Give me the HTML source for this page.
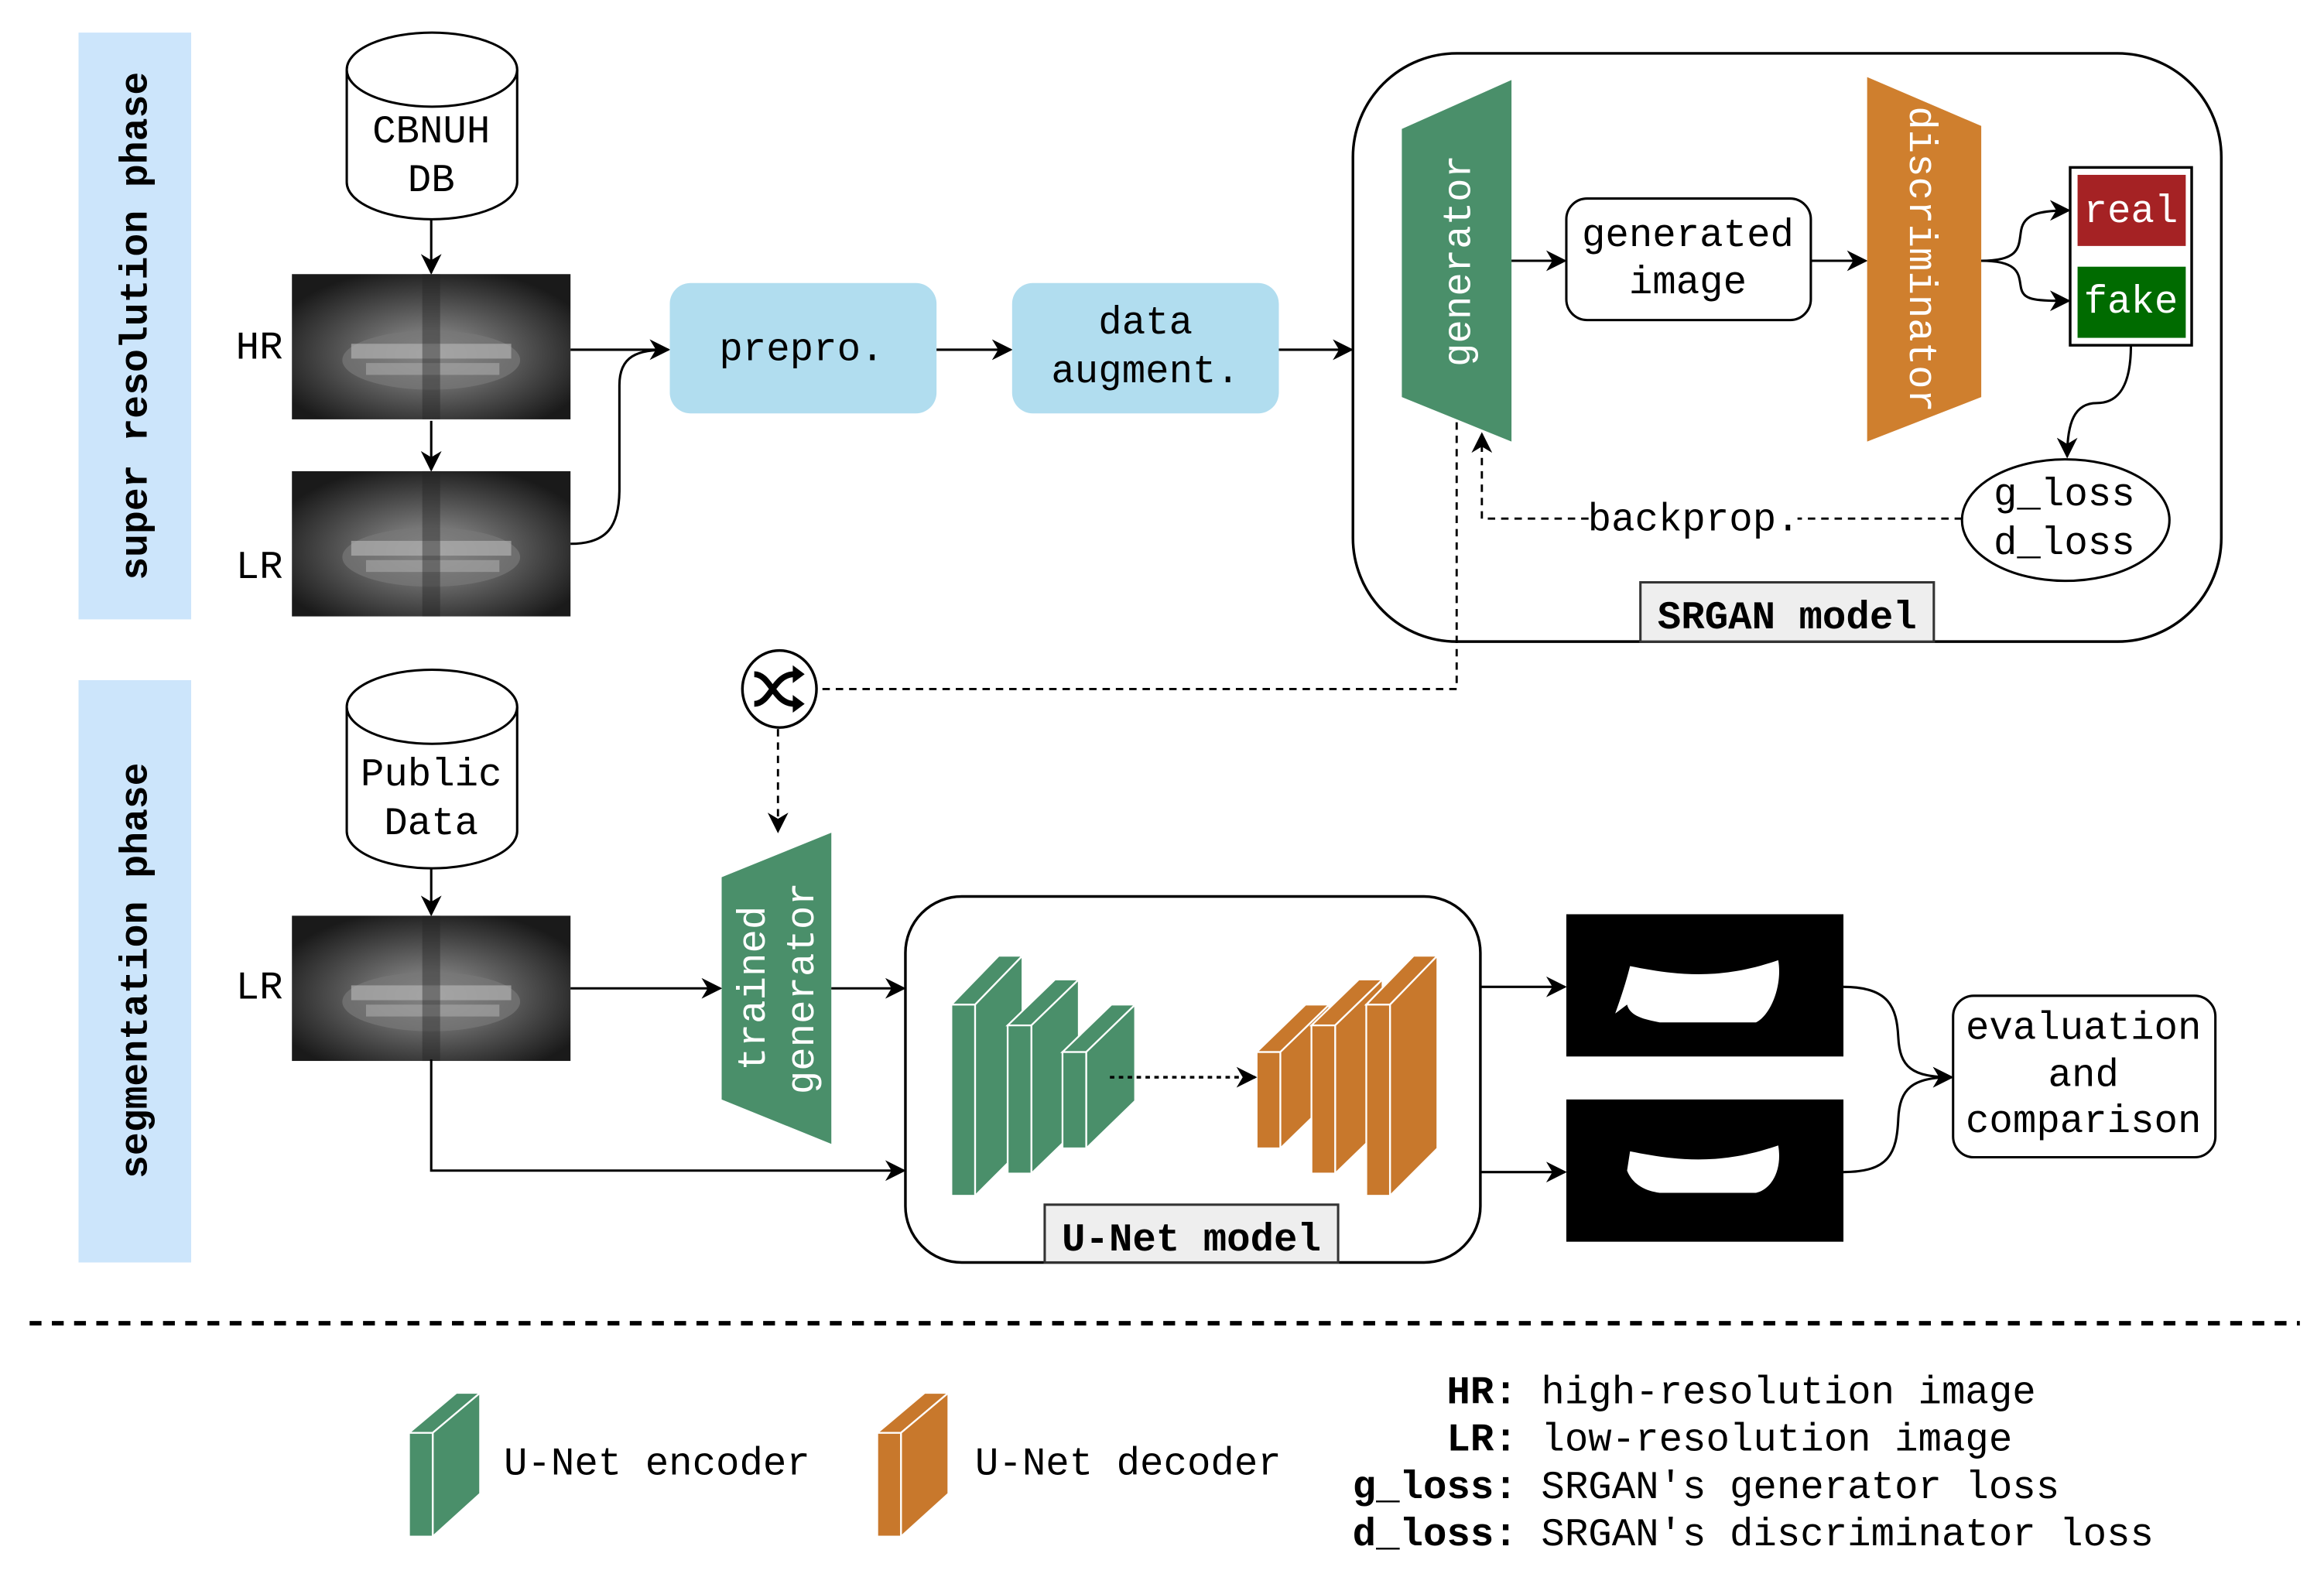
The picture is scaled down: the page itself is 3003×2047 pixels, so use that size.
<!DOCTYPE html>
<html><head><meta charset="utf-8"><style>
html,body{margin:0;padding:0;background:#fff;}
svg{display:block;}
text{font-family:"Liberation Mono",monospace;font-size:26.5px;}
</style></head><body>
<svg width="3003" height="2047" viewBox="0 0 1568.3 1069" preserveAspectRatio="none" xmlns="http://www.w3.org/2000/svg">
<defs>
<marker id="b" viewBox="0 0 10 10" refX="9" refY="5" markerWidth="14" markerHeight="14" orient="auto" markerUnits="userSpaceOnUse"><path d="M0,0 L10,5 L0,10 L3,5 z" fill="#000"/></marker>
<radialGradient id="xr" cx="50%" cy="55%" r="60%"><stop offset="0" stop-color="#9a9a9a"/><stop offset="0.5" stop-color="#5a5a5a"/><stop offset="1" stop-color="#1a1a1a"/></radialGradient>
<g id="xray"><rect width="188" height="98" fill="url(#xr)"/><ellipse cx="94" cy="58" rx="60" ry="20" fill="#777" opacity="0.7"/><rect x="40" y="47" width="108" height="10" fill="#bbb" opacity="0.6"/><rect x="50" y="60" width="90" height="8" fill="#aaa" opacity="0.6"/><rect x="88" y="0" width="12" height="98" fill="#222" opacity="0.4"/></g>
</defs>

<rect x="53" y="22" width="76" height="396" fill="#cce5fb"/>
<text transform="translate(99,220) rotate(-90)" text-anchor="middle" font-weight="bold" style="font-size:26px">super resolution phase</text>
<rect x="53" y="459" width="76" height="393" fill="#cce5fb"/>
<text transform="translate(99,655) rotate(-90)" text-anchor="middle" font-weight="bold" style="font-size:26px">segmentation phase</text>

<g fill="#fff" stroke="#000" stroke-width="1.6">
<path d="M234,47 L234,123 A57.5,25 0 0 0 349,123 L349,47"/>
<ellipse cx="291.5" cy="47" rx="57.5" ry="25"/>
</g>
<text x="291" y="96" text-anchor="middle">CBNUH</text>
<text x="291" y="129" text-anchor="middle">DB</text>
<line x1="291" y1="148" x2="291" y2="184" stroke="#000" stroke-width="1.6" marker-end="url(#b)"/>
<use href="#xray" x="197" y="185"/>
<text x="175" y="242" text-anchor="middle">HR</text>
<line x1="291" y1="284" x2="291" y2="317" stroke="#000" stroke-width="1.6" marker-end="url(#b)"/>
<use href="#xray" x="197" y="318"/>
<text x="175" y="390" text-anchor="middle">LR</text>

<line x1="385" y1="236" x2="451" y2="236" stroke="#000" stroke-width="1.6" marker-end="url(#b)"/>
<path d="M385,367 C410,367 418,355 418,330 L418,260 C418,240 430,236 451,236" fill="none" stroke="#000" stroke-width="1.6"/>
<rect x="452" y="191" width="180" height="88" rx="14" fill="#b1ddef"/>
<text x="541" y="243" text-anchor="middle">prepro.</text>
<line x1="632" y1="236" x2="682" y2="236" stroke="#000" stroke-width="1.6" marker-end="url(#b)"/>
<rect x="683" y="191" width="180" height="88" rx="14" fill="#b1ddef"/>
<text x="773" y="225" text-anchor="middle">data</text>
<text x="773" y="258" text-anchor="middle">augment.</text>
<line x1="863" y1="236" x2="912" y2="236" stroke="#000" stroke-width="1.6" marker-end="url(#b)"/>

<rect x="913" y="36" width="586" height="397" rx="70" fill="none" stroke="#000" stroke-width="1.8"/>
<polygon points="946,87 1020,54 1020,298 946,268" fill="#4a8f6a"/>
<text transform="translate(992,176) rotate(-90)" text-anchor="middle" fill="#fff">generator</text>
<line x1="1020" y1="176" x2="1056" y2="176" stroke="#000" stroke-width="1.6" marker-end="url(#b)"/>
<rect x="1057" y="134" width="165" height="82" rx="14" fill="#fff" stroke="#000" stroke-width="1.6"/>
<text x="1139" y="166" text-anchor="middle">generated</text>
<text x="1139" y="198" text-anchor="middle">image</text>
<line x1="1222" y1="176" x2="1259" y2="176" stroke="#000" stroke-width="1.6" marker-end="url(#b)"/>
<polygon points="1260,52 1337,85 1337,268 1260,298" fill="#cf7f2e"/>
<text transform="translate(1289,175) rotate(90)" text-anchor="middle" fill="#fff">discriminator</text>
<rect x="1397" y="113" width="82" height="120" fill="#fff" stroke="#000" stroke-width="1.8"/>
<rect x="1402" y="118" width="73" height="48" fill="#a52224"/>
<rect x="1402" y="180" width="73" height="48" fill="#006b00"/>
<text x="1438" y="150" text-anchor="middle" fill="#fff">real</text>
<text x="1438" y="211" text-anchor="middle" fill="#fff">fake</text>
<path d="M1337,176 C1365,176 1362,165 1364,155 C1366,145 1375,142 1396,142" fill="none" stroke="#000" stroke-width="1.6" marker-end="url(#b)"/>
<path d="M1337,176 C1365,176 1362,187 1364,195 C1366,203 1375,203 1396,203" fill="none" stroke="#000" stroke-width="1.6" marker-end="url(#b)"/>
<path d="M1438,233 C1438,260 1430,272 1415,272 C1400,272 1395,285 1395,308" fill="none" stroke="#000" stroke-width="1.6" marker-end="url(#b)"/>
<ellipse cx="1394" cy="351" rx="70" ry="41" fill="#fff" stroke="#000" stroke-width="1.6"/>
<text x="1393" y="341" text-anchor="middle">g_loss</text>
<text x="1393" y="374" text-anchor="middle">d_loss</text>
<path d="M1324,350 L1000,350 L1000,293" fill="none" stroke="#000" stroke-width="1.5" stroke-dasharray="5,4" marker-end="url(#b)"/>
<rect x="1073" y="335" width="140" height="30" fill="#fff"/>
<text x="1143" y="358" text-anchor="middle">backprop.</text>
<rect x="1107" y="393" width="198" height="40" fill="#eee" stroke="#333" stroke-width="1.6"/>
<text x="1206" y="424" text-anchor="middle" font-weight="bold">SRGAN model</text>

<path d="M983,285 L983,465 L552,465" fill="none" stroke="#000" stroke-width="1.5" stroke-dasharray="5,4"/>
<ellipse cx="526" cy="465" rx="25" ry="26" fill="#fff" stroke="#000" stroke-width="1.8"/>
<path d="M509,455 C520,455 522,475 536,475 M509,475 C520,475 522,455 536,455" fill="none" stroke="#000" stroke-width="4"/>
<path d="M535,449 L543,455 L535,461 z M535,469 L543,475 L535,481 z" fill="#000"/>
<line x1="525" y1="492" x2="525" y2="561" stroke="#000" stroke-width="1.5" stroke-dasharray="5,4" marker-end="url(#b)"/>

<g fill="#fff" stroke="#000" stroke-width="1.6">
<path d="M234,477 L234,561 A57.5,25 0 0 0 349,561 L349,477"/>
<ellipse cx="291.5" cy="477" rx="57.5" ry="25"/>
</g>
<text x="291" y="530" text-anchor="middle">Public</text>
<text x="291" y="563" text-anchor="middle">Data</text>
<line x1="291" y1="586" x2="291" y2="617" stroke="#000" stroke-width="1.6" marker-end="url(#b)"/>
<use href="#xray" x="197" y="618"/>
<text x="175" y="674" text-anchor="middle">LR</text>
<line x1="385" y1="667" x2="486" y2="667" stroke="#000" stroke-width="1.6" marker-end="url(#b)"/>
<polygon points="487,592 561,562 561,772 487,742" fill="#4a8f6a"/>
<text transform="translate(516,667) rotate(-90)" text-anchor="middle" fill="#fff">trained</text>
<text transform="translate(549,667) rotate(-90)" text-anchor="middle" fill="#fff">generator</text>
<line x1="561" y1="667" x2="610" y2="667" stroke="#000" stroke-width="1.6" marker-end="url(#b)"/>
<path d="M291,715 L291,790 L610,790" fill="none" stroke="#000" stroke-width="1.6" marker-end="url(#b)"/>

<rect x="611" y="605" width="388" height="247" rx="38" fill="none" stroke="#000" stroke-width="1.8"/>
<g stroke="#fff" stroke-width="1.2">
<g fill="#4a8f6a">
<polygon points="642,678 658,678 690,645 674,645"/><polygon points="658,678 690,645 690,775 658,807"/><rect x="642" y="678" width="16" height="129"/>
<polygon points="680,692 696,692 728,661 712,661"/><polygon points="696,692 728,661 728,761 696,792"/><rect x="680" y="692" width="16" height="100"/>
<polygon points="717,710 733,710 766,678 750,678"/><polygon points="733,710 766,678 766,743 733,775"/><rect x="717" y="710" width="16" height="65"/>
</g>
<g fill="#c8782c">
<polygon points="848,710 864,710 897,678 881,678"/><polygon points="864,710 897,678 897,743 864,775"/><rect x="848" y="710" width="16" height="65"/>
<polygon points="885,692 901,692 933,661 917,661"/><polygon points="901,692 933,661 933,761 901,792"/><rect x="885" y="692" width="16" height="100"/>
<polygon points="922,678 938,678 970,645 954,645"/><polygon points="938,678 970,645 970,775 938,807"/><rect x="922" y="678" width="16" height="129"/>
</g>
</g>
<line x1="749" y1="727" x2="847" y2="727" stroke="#000" stroke-width="1.8" stroke-dasharray="3,3" marker-end="url(#b)"/>
<rect x="705" y="813" width="198" height="39" fill="#eee" stroke="#333" stroke-width="1.6"/>
<text x="804" y="844" text-anchor="middle" font-weight="bold">U-Net model</text>

<line x1="999" y1="666" x2="1056" y2="666" stroke="#000" stroke-width="1.6" marker-end="url(#b)"/>
<line x1="999" y1="791" x2="1056" y2="791" stroke="#000" stroke-width="1.6" marker-end="url(#b)"/>
<rect x="1057" y="617" width="187" height="96" fill="#000"/>
<path d="M1100,652 C1130,658 1160,662 1200,648 C1203,665 1195,685 1185,690 L1120,690 C1110,688 1100,686 1098,678 L1090,684 C1095,670 1098,660 1100,652 z" fill="#fff"/>
<rect x="1057" y="742" width="187" height="96" fill="#000"/>
<path d="M1100,777 C1130,783 1160,787 1200,773 C1203,790 1195,803 1185,805 L1120,805 C1105,803 1100,795 1098,790 z" fill="#fff"/>
<path d="M1244,666 C1275,666 1280,680 1281,700 C1282,720 1290,727 1317,727" fill="none" stroke="#000" stroke-width="1.6" marker-end="url(#b)"/>
<path d="M1244,791 C1275,791 1280,778 1281,755 C1282,735 1290,727 1317,727" fill="none" stroke="#000" stroke-width="1.6" marker-end="url(#b)"/>
<rect x="1318" y="672" width="177" height="109" rx="14" fill="#fff" stroke="#000" stroke-width="1.6"/>
<text x="1406" y="701" text-anchor="middle">evaluation</text>
<text x="1406" y="733" text-anchor="middle">and</text>
<text x="1406" y="764" text-anchor="middle">comparison</text>

<line x1="20" y1="893" x2="1552" y2="893" stroke="#000" stroke-width="3" stroke-dasharray="8,7"/>

<g stroke="#fff" stroke-width="1.2">
<g fill="#4a8f6a"><polygon points="276,967 292,967 324,940 308,940"/><polygon points="292,967 324,940 324,1008 292,1037"/><rect x="276" y="967" width="16" height="70"/></g>
<g fill="#c8782c"><polygon points="592,967 608,967 640,940 624,940"/><polygon points="608,967 640,940 640,1008 608,1037"/><rect x="592" y="967" width="16" height="70"/></g>
</g>
<text x="340" y="995">U-Net encoder</text>
<text x="658" y="995">U-Net decoder</text>
<g font-weight="bold" text-anchor="end">
<text x="1024" y="947">HR:</text>
<text x="1024" y="979">LR:</text>
<text x="1024" y="1011">g_loss:</text>
<text x="1024" y="1043">d_loss:</text>
</g>
<text x="1040" y="947">high-resolution image</text>
<text x="1040" y="979">low-resolution image</text>
<text x="1040" y="1011">SRGAN's generator loss</text>
<text x="1040" y="1043">SRGAN's discriminator loss</text>
</svg>
</body></html>
